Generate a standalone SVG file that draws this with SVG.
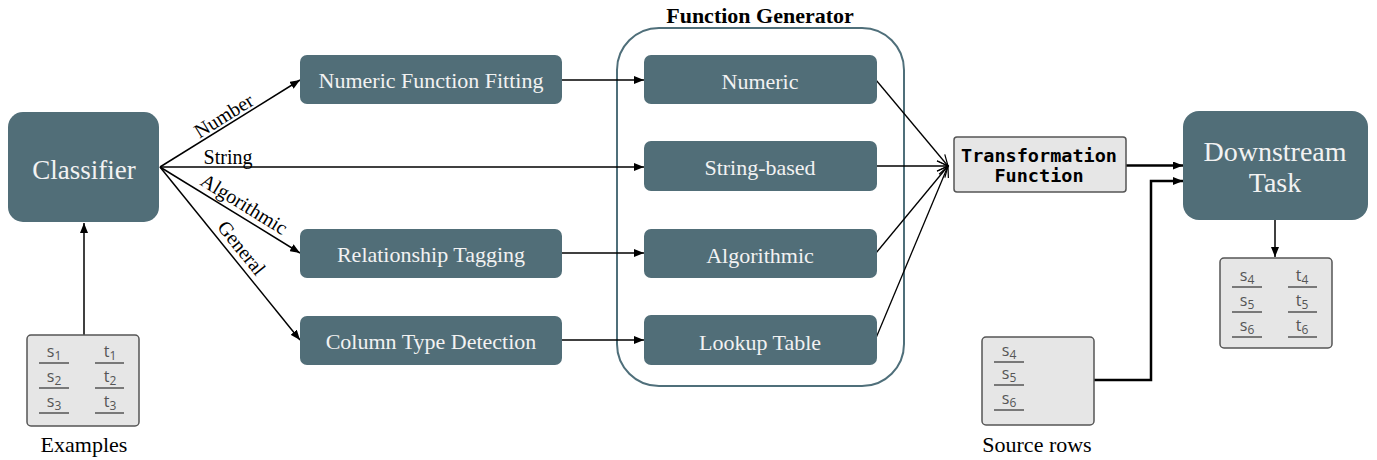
<svg xmlns="http://www.w3.org/2000/svg" width="1377" height="460" viewBox="0 0 1377 460">
<style>
.node{fill:#516e78;}
.nt{fill:#f2f2f2;font-family:"Liberation Serif",serif;font-size:22px;text-anchor:middle;}
.big{font-size:27px;}
.dt{font-size:28px;}
.lbl{fill:#000;font-family:"Liberation Serif",serif;font-size:20px;}
.cap{fill:#000;font-family:"Liberation Serif",serif;font-size:22px;text-anchor:middle;}
.tbl{fill:#e6e6e6;stroke:#555;stroke-width:1.5;}
.cell{fill:#555;font-family:"Open Sans",sans-serif;font-size:16px;text-anchor:middle;}
.sub{font-size:12px;}
.ul{stroke:#555;stroke-width:1.5;}
.e{stroke:#000;stroke-width:1.5;fill:none;}
.e2{stroke:#000;stroke-width:2.5;fill:none;}
.eo{stroke:#000;stroke-width:1.3;fill:none;}
</style>
<defs>
<marker id="ah" viewBox="0 0 10 8" refX="10" refY="4" markerWidth="10" markerHeight="8" markerUnits="userSpaceOnUse" orient="auto"><path d="M0,0 L10,4 L0,8 z" fill="#000"/></marker>
<marker id="ao" viewBox="0 0 12 10" refX="11" refY="5" markerWidth="12" markerHeight="10" markerUnits="userSpaceOnUse" orient="auto" overflow="visible"><path d="M0,0 L11,5 L0,10" fill="none" stroke="#000" stroke-width="1.2"/></marker>
</defs>
<rect width="1377" height="460" fill="#fff"/>

<g id="function-generator">
<rect x="617" y="28" width="287" height="358" rx="42" fill="none" stroke="#4f6f7a" stroke-width="2"/>
<text x="760" y="23" text-anchor="middle" font-family="Liberation Serif,serif" font-size="22" font-weight="bold">Function Generator</text>
</g>

<g id="connectors">
<line class="e" x1="84" y1="335" x2="84" y2="223" marker-end="url(#ah)" stroke-width="2"/>
<line class="e" x1="160" y1="167" x2="300" y2="80" marker-end="url(#ah)"/>
<line class="e" x1="160" y1="167" x2="644" y2="167" marker-end="url(#ah)"/>
<line class="e" x1="160" y1="167" x2="300" y2="253" marker-end="url(#ah)"/>
<line class="e" x1="160" y1="167" x2="300" y2="340" marker-end="url(#ah)"/>
<line class="e" x1="562" y1="80" x2="644" y2="80" marker-end="url(#ah)"/>
<line class="e" x1="562" y1="253" x2="644" y2="253" marker-end="url(#ah)"/>
<line class="e" x1="562" y1="340" x2="644" y2="340" marker-end="url(#ah)"/>
<line class="eo" x1="876" y1="80" x2="948" y2="166" marker-end="url(#ao)"/>
<line class="eo" x1="876" y1="166" x2="948" y2="166" marker-end="url(#ao)"/>
<line class="eo" x1="876" y1="253" x2="948" y2="166" marker-end="url(#ao)"/>
<line class="eo" x1="876" y1="338" x2="948" y2="166" marker-end="url(#ao)"/>
<line class="e2" x1="1126" y1="165.5" x2="1183" y2="165.5" marker-end="url(#ah)"/>
<polyline class="e2" points="1094,380 1151,380 1151,181 1183,181" marker-end="url(#ah)"/>
<line class="e" x1="1275" y1="220" x2="1275" y2="257" stroke-width="2" marker-end="url(#ah)"/>
<text class="lbl" transform="translate(229,124) rotate(-31.9)" text-anchor="middle" dy="-3">Number</text>
<text class="lbl" x="228" y="164" text-anchor="middle">String</text>
<text class="lbl" transform="translate(238,214) rotate(31.6)" text-anchor="middle" dy="-5">Algorithmic</text>
<text class="lbl" transform="translate(234,254) rotate(51)" text-anchor="middle" dy="-3">General</text>
</g>

<g id="classifier">
<rect class="node" x="8" y="112" width="151" height="110" rx="15"/>
<text class="nt big" x="84" y="179">Classifier</text>
</g>

<g id="numeric-function-fitting">
<rect class="node" x="300" y="55" width="262" height="49" rx="7"/>
<text class="nt" x="431" y="88">Numeric Function Fitting</text>
</g>
<g id="relationship-tagging">
<rect class="node" x="300" y="229" width="262" height="49" rx="7"/>
<text class="nt" x="431" y="262">Relationship Tagging</text>
</g>
<g id="column-type-detection">
<rect class="node" x="300" y="316" width="262" height="49" rx="7"/>
<text class="nt" x="431" y="349">Column Type Detection</text>
</g>

<g id="numeric">
<rect class="node" x="644" y="55" width="233" height="49" rx="7"/>
<text class="nt" x="760" y="89">Numeric</text>
</g>
<g id="string-based">
<rect class="node" x="644" y="141" width="233" height="50" rx="7"/>
<text class="nt" x="760" y="175">String-based</text>
</g>
<g id="algorithmic">
<rect class="node" x="644" y="229" width="233" height="49" rx="7"/>
<text class="nt" x="760" y="263">Algorithmic</text>
</g>
<g id="lookup-table">
<rect class="node" x="644" y="315" width="233" height="50" rx="7"/>
<text class="nt" x="760" y="350">Lookup Table</text>
</g>

<g id="transformation-function">
<rect x="954" y="137" width="172" height="55" rx="3" fill="#e6e6e6" stroke="#555" stroke-width="1.5"/>
<text x="1039" y="162" text-anchor="middle" font-family="DejaVu Sans Mono,monospace" font-weight="bold" font-size="18.5">Transformation</text>
<text x="1039" y="182" text-anchor="middle" font-family="DejaVu Sans Mono,monospace" font-weight="bold" font-size="18.5">Function</text>
</g>

<g id="downstream-task">
<rect class="node" x="1183" y="111" width="185" height="109" rx="16"/>
<text class="nt dt" x="1275" y="161">Downstream</text>
<text class="nt dt" x="1275" y="192">Task</text>
</g>

<g id="examples">
<rect class="tbl" x="27" y="335" width="112" height="91" rx="4"/>
<text class="cell" x="54" y="357">s<tspan class="sub" dy="3">1</tspan></text>
<text class="cell" x="110" y="357">t<tspan class="sub" dy="3">1</tspan></text>
<text class="cell" x="54" y="382">s<tspan class="sub" dy="3">2</tspan></text>
<text class="cell" x="110" y="382">t<tspan class="sub" dy="3">2</tspan></text>
<text class="cell" x="54" y="407">s<tspan class="sub" dy="3">3</tspan></text>
<text class="cell" x="110" y="407">t<tspan class="sub" dy="3">3</tspan></text>
<line class="ul" x1="39" y1="363" x2="69" y2="363"/>
<line class="ul" x1="95" y1="363" x2="124" y2="363"/>
<line class="ul" x1="39" y1="388" x2="69" y2="388"/>
<line class="ul" x1="95" y1="388" x2="124" y2="388"/>
<line class="ul" x1="39" y1="413" x2="69" y2="413"/>
<line class="ul" x1="95" y1="413" x2="124" y2="413"/>
<text class="cap" x="84" y="452">Examples</text>
</g>

<g id="source-rows">
<rect class="tbl" x="982" y="337" width="112" height="88" rx="4"/>
<text class="cell" x="1009" y="356">s<tspan class="sub" dy="3">4</tspan></text>
<text class="cell" x="1009" y="379">s<tspan class="sub" dy="3">5</tspan></text>
<text class="cell" x="1009" y="404">s<tspan class="sub" dy="3">6</tspan></text>
<line class="ul" x1="994" y1="362" x2="1024" y2="362"/>
<line class="ul" x1="994" y1="385" x2="1024" y2="385"/>
<line class="ul" x1="994" y1="410" x2="1024" y2="410"/>
<text class="cap" x="1037" y="452">Source rows</text>
</g>

<g id="output-table">
<rect class="tbl" x="1220" y="258" width="112" height="90" rx="4"/>
<text class="cell" x="1247" y="281">s<tspan class="sub" dy="3">4</tspan></text>
<text class="cell" x="1302" y="281">t<tspan class="sub" dy="3">4</tspan></text>
<text class="cell" x="1247" y="306">s<tspan class="sub" dy="3">5</tspan></text>
<text class="cell" x="1302" y="306">t<tspan class="sub" dy="3">5</tspan></text>
<text class="cell" x="1247" y="331">s<tspan class="sub" dy="3">6</tspan></text>
<text class="cell" x="1302" y="331">t<tspan class="sub" dy="3">6</tspan></text>
<line class="ul" x1="1232" y1="287" x2="1262" y2="287"/>
<line class="ul" x1="1288" y1="287" x2="1317" y2="287"/>
<line class="ul" x1="1232" y1="312" x2="1262" y2="312"/>
<line class="ul" x1="1288" y1="312" x2="1317" y2="312"/>
<line class="ul" x1="1232" y1="337" x2="1262" y2="337"/>
<line class="ul" x1="1288" y1="337" x2="1317" y2="337"/>
</g>
</svg>
